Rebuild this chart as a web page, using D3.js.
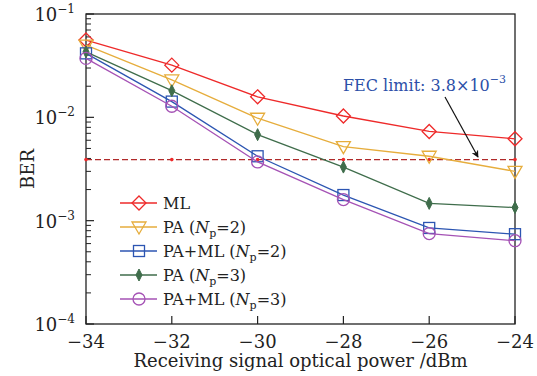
<!DOCTYPE html>
<html>
<head>
<meta charset="utf-8">
<script src="https://cdn.jsdelivr.net/npm/d3@7"></script>
<style>
  body { margin: 0; background: #fff; }
  svg text { font-family: "DejaVu Serif", "Liberation Serif", serif; }
</style>
</head>
<body>
<div id="chart"></div>
<script>
// data
const powers = [-34, -32, -30, -28, -26, -24];
const berML = [0.056, 0.032, 0.0158, 0.0103, 0.0073, 0.0062];
const berPA2 = [0.050, 0.023, 0.0098, 0.0052, 0.0042, 0.0030];
const berPAML2 = [0.0416, 0.0142, 0.0042, 0.00177, 0.00085, 0.00074];
const berPA3 = [0.043, 0.0181, 0.0068, 0.0033, 0.00147, 0.00134];
const berPAML3 = [0.0372, 0.0128, 0.0037, 0.0016, 0.00075, 0.00064];
const fecLimit = 3.9e-3;
const xTicks = [-34, -32, -30, -28, -26, -24];
const yTicks = [1e-1, 1e-2, 1e-3, 1e-4];

const series = [
  {name: "ML", np: null, vals: berML, color: "#ee2a2a", marker: "diamond"},
  {name: "PA", np: 2, vals: berPA2, color: "#e6ad3c", marker: "tri"},
  {name: "PA+ML", np: 2, vals: berPAML2, color: "#2c55b2", marker: "square"},
  {name: "PA", np: 3, vals: berPA3, color: "#3f6d4b", marker: "thin"},
  {name: "PA+ML", np: 3, vals: berPAML3, color: "#a552b5", marker: "circle"}
];

const W = 537, H = 376;
const m = {left: 86, right: 22, top: 14, bottom: 52};
const w = W - m.left - m.right, h = H - m.top - m.bottom;

const svg = d3.select("#chart").append("svg")
  .attr("width", W).attr("height", H);
const g = svg.append("g").attr("transform", "translate(" + m.left + "," + m.top + ")");

const x = d3.scaleLinear().domain([-34, -24]).range([0, w]);
const y = d3.scaleLog().domain([1e-4, 1e-1]).range([h, 0]);

// minor ticks on the log axis (inward)
const minor = [];
for (let e = -4; e < -1; e++) {
  for (let k = 2; k <= 9; k++) minor.push(k * Math.pow(10, e));
}
g.append("g").selectAll("line").data(minor).enter().append("line")
  .attr("x1", 0).attr("x2", 5)
  .attr("y1", d => y(d)).attr("y2", d => y(d))
  .attr("stroke", "#222").attr("stroke-width", 1);
g.append("g").selectAll("line").data(yTicks).enter().append("line")
  .attr("x1", 0).attr("x2", 8)
  .attr("y1", d => y(d)).attr("y2", d => y(d))
  .attr("stroke", "#222").attr("stroke-width", 1.2);
g.append("g").selectAll("line").data(xTicks).enter().append("line")
  .attr("x1", d => x(d)).attr("x2", d => x(d))
  .attr("y1", h).attr("y2", h - 8)
  .attr("stroke", "#222").attr("stroke-width", 1.2);

// frame
g.append("rect").attr("width", w).attr("height", h)
  .attr("fill", "none").attr("stroke", "#222").attr("stroke-width", 1.3);

// y tick labels 10^n
const yl = g.append("g");
yTicks.forEach(t => {
  const e = Math.round(Math.log10(t));
  const txt = yl.append("text").attr("x", -11).attr("y", y(t) + 7)
    .attr("text-anchor", "end").attr("font-size", 18).attr("fill", "#222");
  txt.append("tspan").text("10");
  txt.append("tspan").attr("dy", -8).attr("font-size", 12).text("\u2212" + (-e));
});

// x tick labels
g.append("g").selectAll("text").data(xTicks).enter().append("text")
  .attr("x", d => x(d)).attr("y", h + 24)
  .attr("text-anchor", "middle").attr("font-size", 18).attr("fill", "#222")
  .text(d => "\u2212" + Math.abs(d));

// axis titles
svg.append("text").attr("x", m.left + w / 2).attr("y", H - 9)
  .attr("text-anchor", "middle").attr("font-size", 18).attr("fill", "#222")
  .text("Receiving signal optical power /dBm");
svg.append("text").attr("transform", "translate(34," + (m.top + h / 2) + ") rotate(-90)")
  .attr("text-anchor", "middle").attr("font-size", 18).attr("fill", "#222")
  .text("BER");

// FEC limit line
g.append("line").attr("x1", 0).attr("x2", w)
  .attr("y1", y(fecLimit)).attr("y2", y(fecLimit))
  .attr("stroke", "#b02a2a").attr("stroke-width", 1.2)
  .attr("stroke-dasharray", "6,3");
g.append("g").selectAll("circle").data(powers).enter().append("circle")
  .attr("cx", d => x(d)).attr("cy", y(fecLimit)).attr("r", 1.8)
  .attr("fill", "#ee2a2a");

function drawMarker(sel, type, color) {
  if (type === "diamond") {
    sel.append("path").attr("d", "M0,-7L7,0L0,7L-7,0Z")
      .attr("fill", "none").attr("stroke", color).attr("stroke-width", 1.3);
  } else if (type === "tri") {
    sel.append("path").attr("d", "M-7,-5L7,-5L0,7Z")
      .attr("fill", "none").attr("stroke", color).attr("stroke-width", 1.3);
  } else if (type === "square") {
    sel.append("rect").attr("x", -5.5).attr("y", -5.5).attr("width", 11).attr("height", 11)
      .attr("fill", "none").attr("stroke", color).attr("stroke-width", 1.3);
  } else if (type === "thin") {
    sel.append("path").attr("d", "M0,-6L3,0L0,6L-3,0Z")
      .attr("fill", color).attr("stroke", color).attr("stroke-width", 1);
  } else {
    sel.append("circle").attr("r", 6)
      .attr("fill", "none").attr("stroke", color).attr("stroke-width", 1.3);
  }
}

const line = d3.line().x((d, i) => x(powers[i])).y(d => y(d));
series.forEach(s => {
  g.append("path").datum(s.vals).attr("d", line)
    .attr("fill", "none").attr("stroke", s.color).attr("stroke-width", 1.3);
  s.vals.forEach((v, i) => {
    const mk = g.append("g").attr("transform", "translate(" + x(powers[i]) + "," + y(v) + ")");
    drawMarker(mk, s.marker, s.color);
  });
});

// legend
const lg = svg.append("g").attr("transform", "translate(120,203)");
series.forEach((s, i) => {
  const row = lg.append("g").attr("transform", "translate(0," + i * 24 + ")");
  row.append("line").attr("x1", 0).attr("x2", 37)
    .attr("stroke", s.color).attr("stroke-width", 1.3);
  drawMarker(row.append("g").attr("transform", "translate(19,0)"), s.marker, s.color);
  const t = row.append("text").attr("x", 43).attr("y", 6)
    .attr("font-size", 16).attr("fill", "#222");
  t.append("tspan").text(s.name);
  if (s.np) {
    t.append("tspan").text(" (");
    t.append("tspan").attr("font-style", "italic").text("N");
    t.append("tspan").attr("font-size", 11).attr("dy", 4).text("p");
    t.append("tspan").attr("dy", -4).text("=" + s.np + ")");
  }
});

// annotation
const ann = svg.append("text").attr("x", 343).attr("y", 91)
  .attr("font-size", 16).attr("fill", "#2c4fa8");
ann.append("tspan").text("FEC limit: 3.8\u00d710");
ann.append("tspan").attr("dy", -8).attr("font-size", 11).text("\u22123");

svg.append("defs").append("marker").attr("id", "arr")
  .attr("viewBox", "0 0 10 10").attr("refX", 9).attr("refY", 5)
  .attr("markerWidth", 6).attr("markerHeight", 6).attr("orient", "auto")
  .append("path").attr("d", "M0,0L10,5L0,10L3,5Z").attr("fill", "#111");
svg.append("line").attr("x1", 445).attr("y1", 97).attr("x2", 478).attr("y2", 157)
  .attr("stroke", "#111").attr("stroke-width", 1.2).attr("marker-end", "url(#arr)");
</script>
</body>
</html>
